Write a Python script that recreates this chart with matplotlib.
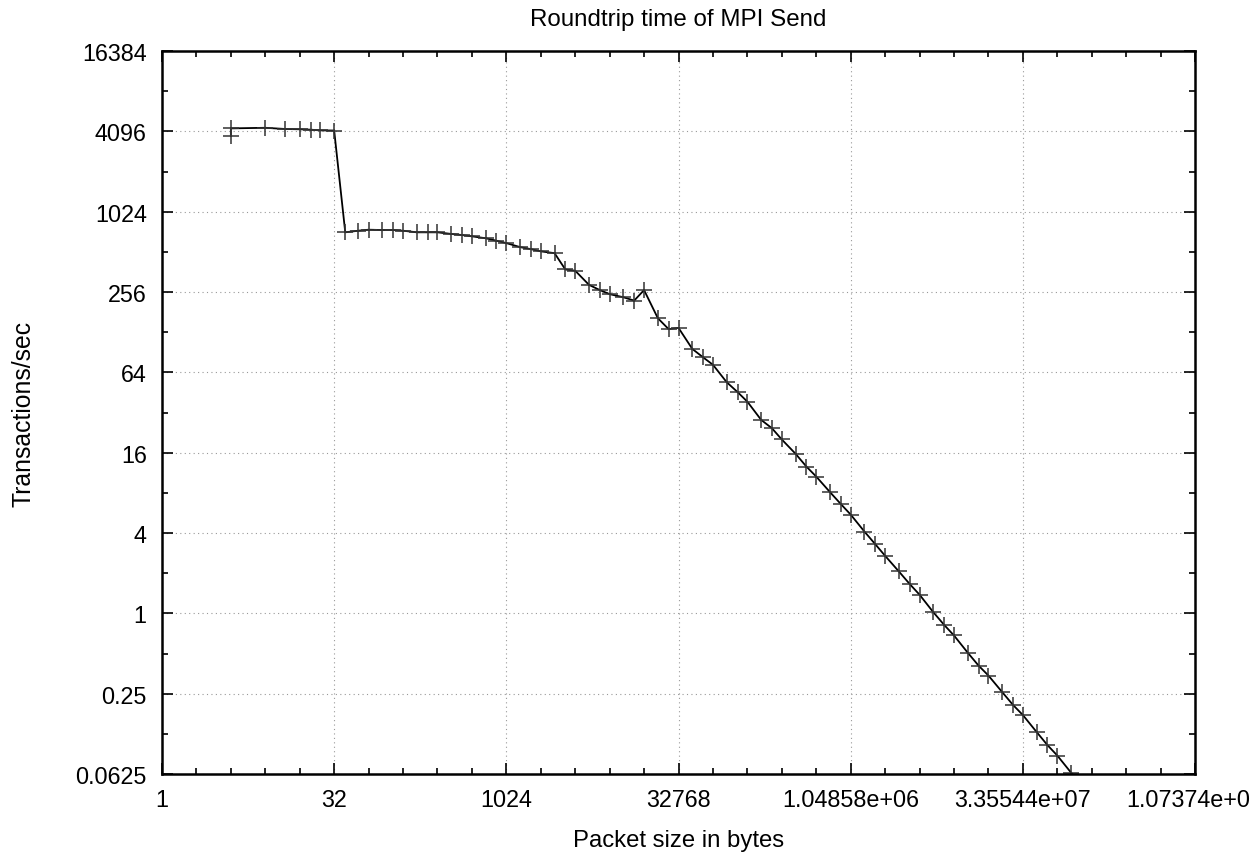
import matplotlib
matplotlib.use("Agg")
import matplotlib.pyplot as plt
from matplotlib.ticker import FixedLocator, FuncFormatter

plt.rcParams["font.family"] = ["Liberation Sans", "DejaVu Sans"]

# packet size (bytes) vs transactions per second
packet_size = [4, 4, 8, 12, 16, 20, 24, 32,
               40, 52, 64, 84, 105, 128, 169, 210, 256, 338, 420, 512, 676, 840,
               1024, 1352, 1680, 2048, 2703, 3359, 4096, 5407, 6717, 8192,
               10813, 13435, 16384, 21627, 26870, 32768, 43254, 53740, 65536,
               86508, 107479, 131072, 173015, 214958, 262144, 346030, 429916,
               524288, 692060, 859832, 1048576, 1384120, 1719664, 2097152,
               2768240, 3439328, 4194304, 5536481, 6878658, 8388608, 11072963,
               13757317, 16777216, 22145926, 27514634, 33554432, 44291852,
               55029268, 67108864, 88583704, 110058536]
trans_per_sec = [3800, 4316, 4360, 4270, 4250, 4220, 4170, 4160,
                 718, 738, 751, 747, 747, 738, 718, 718, 718, 698, 685, 670, 648, 621,
                 596, 556, 537, 517, 501, 378, 370, 290, 265, 247,
                 234, 221, 265, 163, 135, 138, 96, 83, 73,
                 54, 45.6, 38.6, 28.2, 24.4, 20.1, 15.7, 12.6,
                 10.6, 8.1, 6.6, 5.5, 4.1, 3.3, 2.7,
                 2.06, 1.66, 1.38, 1.02, 0.82, 0.683, 0.507,
                 0.406, 0.342, 0.257, 0.206, 0.173, 0.129,
                 0.103, 0.086, 0.064, 0.052]

x_major = [2 ** k for k in range(0, 31, 5)]
y_major = [4.0 ** k for k in range(-2, 8)]

fig = plt.figure(figsize=(12.5, 8.54), dpi=100)
ax = fig.add_axes([0.1296, 0.0925, 0.8264, 0.8465])

ax.plot(packet_size, trans_per_sec, color="black", lw=1.3,
        marker="+", ms=11, mew=1.1, mec="#333333")

ax.set_xscale("log", base=2)
ax.set_yscale("log", base=2)
ax.set_xlim(1, 2 ** 30)
ax.set_ylim(0.0625, 16384)

ax.xaxis.set_major_locator(FixedLocator(x_major))
ax.xaxis.set_minor_locator(FixedLocator([2 ** k for k in range(31)]))
ax.yaxis.set_major_locator(FixedLocator(y_major))
ax.yaxis.set_minor_locator(FixedLocator([2.0 ** k for k in range(-4, 15)]))
fmt = FuncFormatter(lambda v, p: "%g" % v)
ax.xaxis.set_major_formatter(fmt)
ax.yaxis.set_major_formatter(fmt)
ax.xaxis.set_minor_formatter(FuncFormatter(lambda v, p: ""))
ax.yaxis.set_minor_formatter(FuncFormatter(lambda v, p: ""))

ax.tick_params(which="both", direction="in", top=True, right=True, width=1.2, colors="black")
ax.tick_params(which="major", length=8, labelsize=16.8)
ax.tick_params(which="minor", length=4)
ax.tick_params(axis="x", which="major", pad=10)
ax.tick_params(axis="y", which="major", pad=11)

ax.grid(True, which="major", ls=(0, (1, 3)), color="#999999", lw=0.8)
for s in ax.spines.values():
    s.set_linewidth(1.8)

ax.set_title("Roundtrip time of MPI Send", fontsize=17.4, pad=19)
ax.set_xlabel("Packet size in bytes", fontsize=17.2, labelpad=13)
ax.set_ylabel("Transactions/sec", fontsize=17.8, labelpad=29)

fig.savefig("out.png", dpi=100)
